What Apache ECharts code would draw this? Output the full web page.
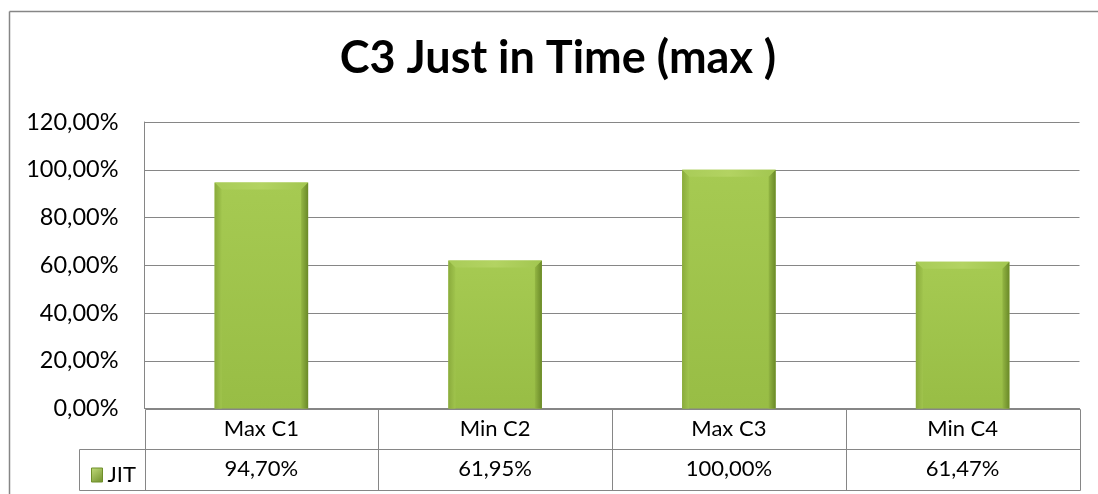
<!DOCTYPE html>
<html>
<head>
<meta charset="utf-8">
<script src="https://cdn.jsdelivr.net/npm/echarts@6/dist/echarts.min.js"></script>
<style>
html,body{margin:0;padding:0;background:#fff;overflow:hidden;}
#chart{width:1098px;height:494px;}
</style>
</head>
<body>
<div id="chart"></div>
<script>
// ---- data ----
const categories = ['Max C1', 'Min C2', 'Max C3', 'Min C4'];
const seriesName = 'JIT';
const jitValues = [94.70, 61.95, 100.00, 61.47];
const yMin = 0, yMax = 120, yInterval = 20;
const titleText = 'C3 Just in Time (max )';

// ---- helpers ----
const fmtPct = v => v.toFixed(2).replace('.', ',') + '%';
const FONT = 'Lato';
const GRID_COLOR = '#868686';
const ROW_H = 40.5;
const LEGEND_CELL_W = 65.5;

const chart = echarts.init(document.getElementById('chart'), null, {renderer: 'canvas'});

function renderBar(params, api) {
  const idx = api.value(0);
  const val = api.value(1);
  const topPt = api.coord([idx, val]);
  const basePt = api.coord([idx, 0]);
  const bw = api.size([1, 0])[0] * 0.4;
  const l = topPt[0] - bw / 2, r = topPt[0] + bw / 2;
  const t = topPt[1], b = basePt[1];
  const bv = 7;
  return {
    type: 'group',
    children: [
      {type: 'rect', shape: {x: l, y: t, width: bw, height: b - t},
       style: {fill: new echarts.graphic.LinearGradient(0, 0, 0, 1, [
         {offset: 0, color: '#a6ca52'}, {offset: 1, color: '#98bd45'}]),
         shadowColor: 'rgba(0,0,0,0.35)', shadowBlur: 4, shadowOffsetX: 2, shadowOffsetY: 1}},
      {type: 'polygon', shape: {points: [[l, t], [r, t], [r - bv, t + bv], [l + bv, t + bv]]},
       style: {fill: new echarts.graphic.LinearGradient(0, 0, 1, 0, [
         {offset: 0, color: '#a9cc58'}, {offset: 0.5, color: '#b3d362'}, {offset: 1, color: '#a2c650'}])}},
      {type: 'polygon', shape: {points: [[l, t], [l + bv, t + bv], [l + bv, b], [l, b]]},
       style: {fill: new echarts.graphic.LinearGradient(0, 0, 1, 0, [
         {offset: 0, color: '#8aab3c'}, {offset: 1, color: '#a0c44d'}])}},
      {type: 'polygon', shape: {points: [[r, t], [r - bv, t + bv], [r - bv, b], [r, b]]},
       style: {fill: new echarts.graphic.LinearGradient(0, 0, 1, 0, [
         {offset: 0, color: '#93b643'}, {offset: 1, color: '#6a8928'}])}}
    ]
  };
}

const option = {
  animation: false,
  backgroundColor: '#fff',
  title: {
    text: titleText,
    left: 553,
    textAlign: 'center',
    top: 31,
    textStyle: {fontFamily: FONT, fontWeight: 'bold', fontSize: 45, color: '#000'}
  },
  legend: {
    show: true,
    left: 86,
    top: 459,
    itemWidth: 11,
    itemHeight: 14,
    itemGap: 4,
    icon: 'rect',
    data: [{name: seriesName, itemStyle: {color: new echarts.graphic.LinearGradient(0, 0, 1, 1, [
      {offset: 0, color: '#c2dc7c'}, {offset: 1, color: '#6f8f2a'}]), borderColor: '#6f8f2a', borderWidth: 1}}],
    textStyle: {fontFamily: FONT, fontSize: 22, color: '#000', padding: [0, 0, 0, 0]}
  },
  grid: {left: 144.5, right: 18.5, top: 122, bottom: 85.5, containLabel: false},
  xAxis: [
    {
      type: 'category', data: categories, position: 'bottom',
      axisLine: {show: true, lineStyle: {color: GRID_COLOR, width: 1}},
      axisTick: {show: false},
      axisLabel: {margin: ROW_H / 2, verticalAlign: 'middle', fontFamily: FONT, fontSize: 22, color: '#000'},
      splitLine: {show: false}
    },
    {
      type: 'category', data: jitValues.map(fmtPct), position: 'bottom', offset: ROW_H,
      axisLine: {show: false}, axisTick: {show: false},
      axisLabel: {margin: ROW_H / 2, verticalAlign: 'middle', fontFamily: FONT, fontSize: 22, color: '#000'},
      splitLine: {show: false}
    }
  ],
  yAxis: {
    type: 'value', min: yMin, max: yMax, interval: yInterval,
    axisLine: {show: true, lineStyle: {color: GRID_COLOR, width: 1}},
    axisTick: {show: false},
    axisLabel: {formatter: fmtPct, margin: 26, fontFamily: FONT, fontSize: 23.5, color: '#000'},
    splitLine: {show: true, lineStyle: {color: GRID_COLOR, width: 1}}
  },
  series: [{
    name: seriesName,
    type: 'custom',
    xAxisIndex: 0,
    yAxisIndex: 0,
    itemStyle: {color: '#9dc24a'},
    renderItem: renderBar,
    encode: {x: 0, y: 1},
    data: categories.map((c, i) => [i, jitValues[i]]),
    z: 3
  }]
};
chart.setOption(option);

// ---- data table grid lines derived from the axes ----
const y0 = chart.convertToPixel({yAxisIndex: 0}, 0);
const centers = categories.map(c => chart.convertToPixel({xAxisIndex: 0}, c));
const band = centers.length > 1 ? centers[1] - centers[0] : 0;
const tLeft = centers[0] - band / 2;
const tRight = centers[centers.length - 1] + band / 2;
const lgLeft = tLeft - LEGEND_CELL_W;
const lineStyle = {stroke: GRID_COLOR, lineWidth: 1};
const r = v => Math.round(v) + 0.5;
const els = [];
// outer chart frame (top and left edges visible in the crop)
els.push({type: 'line', shape: {x1: 9.5, y1: 11.5, x2: 1098, y2: 11.5}, style: {stroke: GRID_COLOR, lineWidth: 1.5}, silent: true});
els.push({type: 'line', shape: {x1: 9.5, y1: 11.5, x2: 9.5, y2: 494}, style: {stroke: GRID_COLOR, lineWidth: 1.5}, silent: true});
// horizontal
els.push({type: 'line', shape: {x1: r(lgLeft), y1: r(y0 + ROW_H), x2: r(tRight), y2: r(y0 + ROW_H)}, style: lineStyle});
els.push({type: 'line', shape: {x1: r(lgLeft), y1: r(y0 + 2 * ROW_H), x2: r(tRight), y2: r(y0 + 2 * ROW_H)}, style: lineStyle});
els.push({type: 'line', shape: {x1: r(tLeft), y1: r(y0), x2: r(tRight), y2: r(y0)}, style: lineStyle});
// vertical
for (let i = 0; i <= categories.length; i++) {
  const x = r(tLeft + i * band);
  els.push({type: 'line', shape: {x1: x, y1: r(y0), x2: x, y2: r(y0 + 2 * ROW_H)}, style: lineStyle});
}
els.push({type: 'line', shape: {x1: r(lgLeft), y1: r(y0 + ROW_H), x2: r(lgLeft), y2: r(y0 + 2 * ROW_H)}, style: lineStyle});
chart.setOption({graphic: {elements: els}});
</script>
</body>
</html>
